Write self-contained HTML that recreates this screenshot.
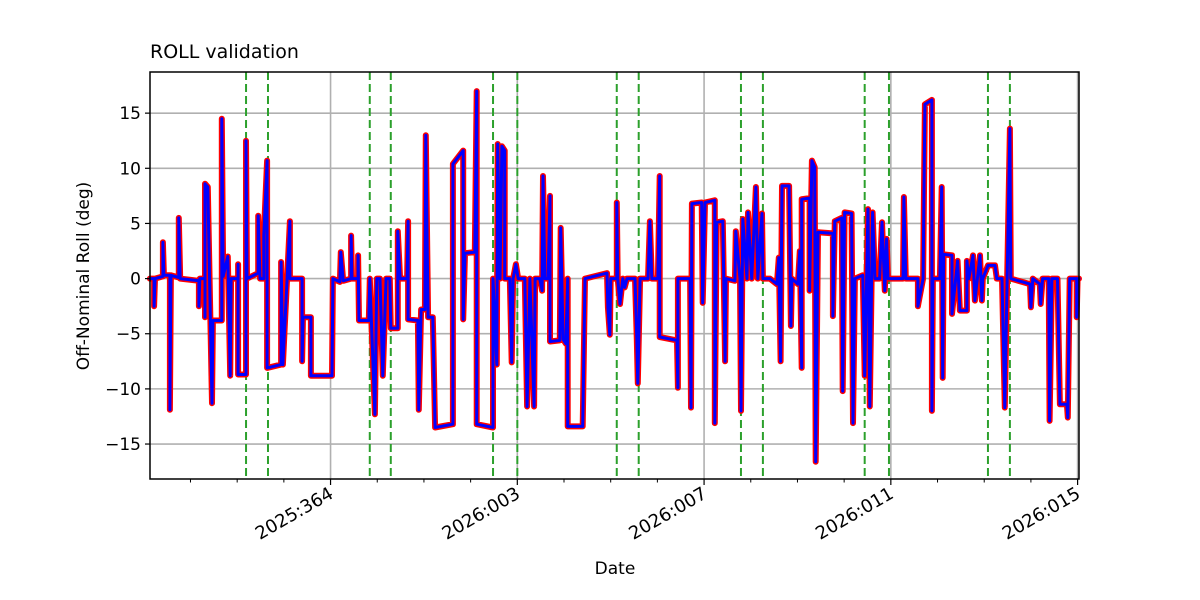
<!DOCTYPE html>
<html><head><meta charset="utf-8">
<style>
html,body{margin:0;padding:0;background:#fff;}
svg{display:block;font-family:"DejaVu Sans","Liberation Sans",sans-serif;}
</style></head>
<body>
<svg id="chart" width="1200" height="600" viewBox="0 0 1200 600" xmlns="http://www.w3.org/2000/svg">
<rect x="0" y="0" width="1200" height="600" fill="#fff"/>
<g id="grid"></g>
<g id="events"></g>
<g id="series"></g>
<g id="axes"></g>
<text x="150" y="58" font-size="19" fill="#000">ROLL validation</text>
<text x="615" y="574" font-size="17" text-anchor="middle" fill="#000">Date</text>
<text transform="translate(89,276) rotate(-90)" font-size="17" text-anchor="middle" fill="#000">Off-Nominal Roll (deg)</text>
</svg>
<script>
// time in days since 2026:001 00:00
const times = [-5.87,-5.78,-5.78,-5.76,-5.59,-5.59,-5.57,-5.44,-5.44,-5.42,-5.25,-5.25,-5.22,-4.82,-4.82,-4.80,-4.69,-4.69,-4.69,-4.63,-4.54,-4.52,-4.33,-4.33,-4.30,-4.20,-4.15,-4.13,-3.98,-3.98,-3.98,-3.81,-3.81,-3.79,-3.55,-3.55,-3.51,-3.43,-3.43,-3.36,-3.36,-3.06,-3.06,-3.02,-2.87,-2.87,-2.61,-2.61,-2.59,-2.42,-2.42,-1.97,-1.95,-1.80,-1.78,-1.73,-1.56,-1.56,-1.54,-1.41,-1.41,-1.39,-1.18,-1.16,-1.05,-1.01,-0.94,-0.88,-0.81,-0.73,-0.71,-0.56,-0.56,-0.51,-0.36,-0.34,-0.34,-0.13,-0.11,-0.06,0.02,0.04,0.09,0.19,0.24,0.62,0.62,0.84,0.84,0.88,1.09,1.13,1.13,1.48,1.48,1.56,1.58,1.63,1.67,1.73,1.73,1.84,1.88,1.91,1.97,2.02,2.16,2.21,2.27,2.36,2.38,2.48,2.53,2.55,2.59,2.66,2.70,2.70,2.91,2.93,2.98,3.04,3.08,3.08,3.40,3.45,3.92,3.94,3.98,4.00,4.13,4.13,4.15,4.20,4.26,4.30,4.35,4.52,4.56,4.58,4.63,4.80,4.84,4.88,5.01,5.05,5.05,5.42,5.44,5.44,5.70,5.72,5.74,5.95,5.97,6.02,6.23,6.23,6.27,6.40,6.45,6.47,6.66,6.68,6.77,6.79,6.83,6.92,6.94,7.02,7.11,7.15,7.24,7.26,7.41,7.56,7.60,7.64,7.67,7.82,7.86,7.88,8.01,8.05,8.09,8.09,8.26,8.26,8.31,8.37,8.39,8.44,8.76,8.76,8.80,8.95,8.97,9.01,9.16,9.19,9.23,9.40,9.44,9.51,9.55,9.61,9.66,9.76,9.81,9.87,9.91,9.94,10.26,10.28,10.32,10.58,10.58,10.69,10.73,10.88,10.88,10.90,11.05,11.09,11.11,11.13,11.31,11.31,11.43,11.48,11.63,11.63,11.67,11.76,11.80,11.91,11.95,11.97,12.08,12.23,12.27,12.38,12.44,12.55,12.57,12.98,13.00,13.04,13.19,13.21,13.25,13.38,13.40,13.45,13.57,13.62,13.77,13.79,13.83,13.98,13.98,14.00,14.03];
const rollValues = [0,0,-2.5,0,0.2,3.3,0.3,0.3,-11.9,0.3,0.1,5.5,0,-0.2,-2.5,0,0,-3.5,8.6,8.3,-11.3,-3.8,-3.8,14.5,0.2,2,-8.8,0,0,1.3,-8.7,-8.7,12.5,0,0.5,5.7,0,0,3.9,10.7,-8.1,-7.8,1.5,-7.8,5.2,0,0,-7.5,-3.5,-3.5,-8.8,-8.8,0,-0.3,2.4,-0.2,0,3.9,0,0,2.1,-3.8,-3.8,0,-12.3,0,0,-8.8,0,0,-4.5,-4.5,4.3,0,0,5.2,-3.7,-3.8,-11.9,-2.8,-2.8,13,-3.5,-3.5,-13.5,-13.2,10.4,11.6,-3.7,2.3,2.4,17,-13.2,-13.5,0,-7.8,12.2,0,12.0,11.6,0,0,-7.6,0,1.3,0,0,-11.6,0,-11.6,0,0,-1.1,9.3,0,0,7.5,-5.7,-5.6,4.6,-5.5,-5.9,0,-13.4,-13.4,0,0.5,-2.6,-5.1,0,0,6.9,0,-2.3,0,-0.8,0,0,-5.5,-9.5,0,0,5.2,0,0,9.3,-5.3,-5.6,-9.9,0,0,-11.7,6.8,6.9,-2.2,6.9,7.1,-13.1,5.1,5.2,-7.5,0,-0.2,4.3,0,-12,5.4,0,6.0,0,8.3,0,5.9,0,0,-0.5,1.9,-7.5,8.4,8.4,-4.3,0,-0.5,2.5,-8.1,7.2,7.3,-1.1,10.7,10.1,-16.6,4.2,4.1,-3.4,5.2,5.5,-10.2,6.0,5.9,-13.1,0,0.3,-8.8,6.3,-11.6,6.0,0,0,5.1,-1.1,3.6,0,0,7.4,0,0,-2.5,0,15.8,16.2,-12,0,0,8.3,-9,2.2,2.1,-3.2,1.6,-2.9,-2.9,1.6,0,2.1,-2.0,2.1,-2.0,0,1.2,1.2,0,0,-11.7,13.6,0,-0.5,-2.6,0,-0.5,-2.3,0,0,-12.9,0,0,-11.4,-11.4,-12.6,0,0,-3.5,0,0];
const eventDays = [-3.81,-3.34,-1.16,-0.71,1.48,2.0,4.13,4.60,6.79,7.26,9.44,9.96,12.08,12.55];
const yTicks = [-15,-10,-5,0,5,10,15];
const xTickDays = [-2,2,6,10,14];
const xTickLabels = ["2025:364","2026:003","2026:007","2026:011","2026:015"];
const minorDays = [-5,-4,-3,-1,0,1,3,4,5,7,8,9,11,12,13];

const L=150,R=1079,T=72,B=479;
const xMin=-5.867,xMax=14.03,yMin=-18.17,yMax=18.73;
const sx=d=>L+(d-xMin)/(xMax-xMin)*(R-L);
const sy=v=>B-(v-yMin)/(yMax-yMin)*(B-T);
const NS="http://www.w3.org/2000/svg";
function mk(tag,parent,attrs){const e=document.createElementNS(NS,tag);for(const k in attrs)e.setAttribute(k,attrs[k]);parent.appendChild(e);return e;}
const grid=document.getElementById('grid'),ev=document.getElementById('events'),ser=document.getElementById('series'),ax=document.getElementById('axes');

yTicks.forEach(v=>{
  const g=mk('line',grid,{x1:L,x2:R,y1:sy(v),y2:sy(v),stroke:'#b0b0b0','stroke-width':1.6});
  
  
  const t=mk('line',ax,{x1:L-5,x2:L,y1:sy(v),y2:sy(v),stroke:'#000','stroke-width':1.2});
  
  
  const lb=mk('text',ax,{x:L-9,y:sy(v)+6,'font-size':17,'text-anchor':'end',fill:'#000'});
  lb.textContent=(v<0?'\u2212'+Math.abs(v):String(v));
  
  
});
xTickDays.forEach((d,i)=>{
  const g=mk('line',grid,{x1:sx(d),x2:sx(d),y1:T,y2:B,stroke:'#b0b0b0','stroke-width':1.6});
  
  
  const t=mk('line',ax,{x1:sx(d),x2:sx(d),y1:B,y2:B+6,stroke:'#000','stroke-width':1.2});
  
  
  const lb=mk('text',ax,{transform:`translate(${sx(d)+4},${B+18}) rotate(-30)`,'font-size':18,'text-anchor':'end',fill:'#000'});
  lb.textContent=xTickLabels[i];
  
  
});
minorDays.forEach(d=>{
  const t=mk('line',ax,{x1:sx(d),x2:sx(d),y1:B,y2:B+3.5,stroke:'#000','stroke-width':1});
  
  
});
eventDays.forEach(d=>{
  const l=mk('line',ev,{x1:sx(d),x2:sx(d),y1:T,y2:B,stroke:'#2ca02c','stroke-width':2,'stroke-dasharray':'8,4'});
  
  
});
const pts=times.map((t,i)=>sx(t).toFixed(1)+','+sy(rollValues[i]).toFixed(1)).join(' ');
const red=mk('polyline',ser,{points:pts,fill:'none',stroke:'#ff0000','stroke-width':6,'stroke-linejoin':'round','stroke-linecap':'round'});


const blue=mk('polyline',ser,{points:pts,fill:'none',stroke:'#0000ff','stroke-width':3,'stroke-linejoin':'round','stroke-linecap':'round'});


const frame=mk('rect',ax,{x:L,y:T,width:R-L,height:B-T,fill:'none',stroke:'#000','stroke-width':1.5});


</script>
</body></html>
